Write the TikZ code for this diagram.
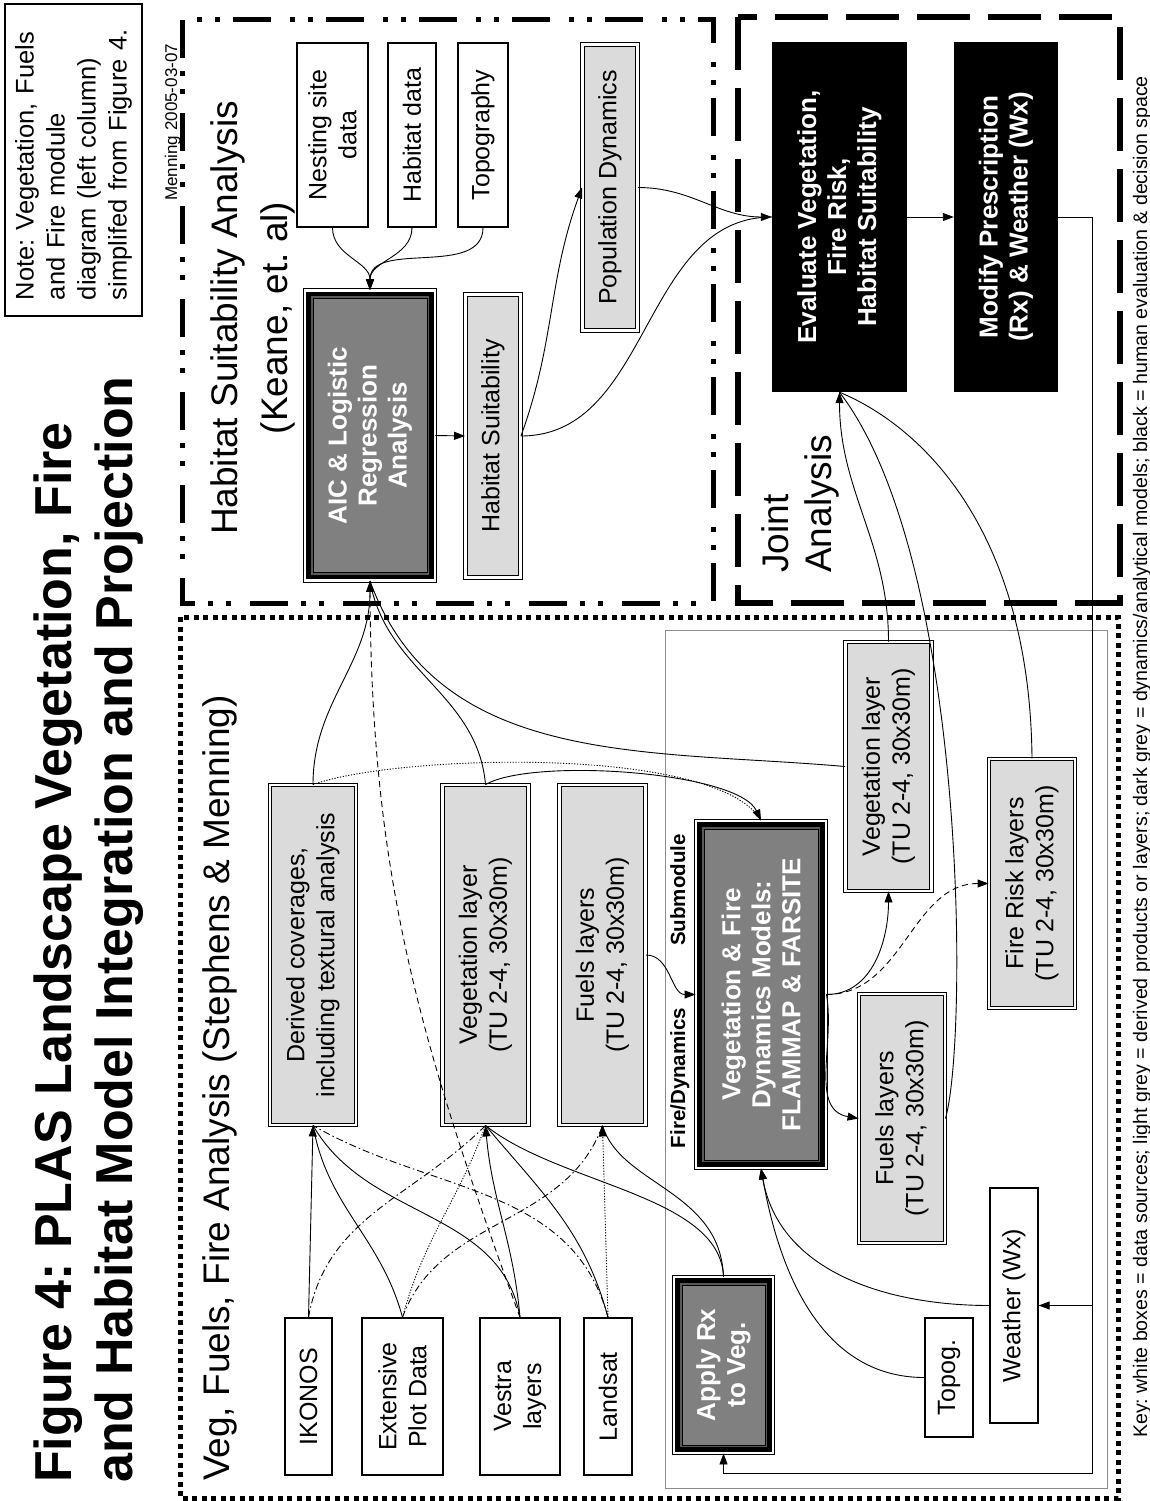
\documentclass[tikz,border=0pt]{standalone}
\usepackage{fontspec}
\setmainfont{Liberation Sans}
\usepackage{tikz}
\usetikzlibrary{positioning,arrows.meta}

% inner frame of the dark grey model boxes
\newcommand{\modelframe}[1]{%
  \draw[line width=4pt] ([shift={(-4.2pt,4.2pt)}]#1.south west) rectangle ([shift={(4.2pt,-4.2pt)}]#1.north east);
  \draw[line width=1.8pt,black!65] ([shift={(-7.1pt,7.1pt)}]#1.south west) rectangle ([shift={(7.1pt,-7.1pt)}]#1.north east);
  \draw[line width=0.8pt] ([shift={(-8.4pt,8.4pt)}]#1.south west) rectangle ([shift={(8.4pt,-8.4pt)}]#1.north east);}

\begin{document}
\frenchspacing
\begin{tikzpicture}[x=1pt,y=-1pt,
  every node/.style={rotate=90,inner sep=0pt,align=center},
  datasrc/.style={draw,line width=1.2pt,fill=white,font=\fontsize{25}{30}\selectfont},
  product/.style={draw,line width=0.9pt,double=white,double distance=2.6pt,fill=black!14,font=\fontsize{25}{30}\selectfont},
  model/.style={draw,line width=0.9pt,double=white,double distance=2.6pt,fill=black!50,text=white,font=\bfseries\fontsize{26}{30}\selectfont},
  decide/.style={fill=black,text=white,font=\bfseries\fontsize{26}{30}\selectfont},
  heading/.style={font=\fontsize{37}{43}\selectfont},
  link/.style={line width=0.9pt},
  arrow/.style={link,-{Triangle[length=11pt,width=8pt]}},
  dashdot/.style={dash pattern=on 7pt off 3pt on 1.5pt off 3pt},
  longdash/.style={dash pattern=on 6pt off 4pt},
  finedot/.style={dash pattern=on 1.2pt off 1.6pt}
]
  \useasboundingbox (0,0) rectangle (1150,1501);

  % module frames
  \draw[line width=5pt,dash pattern=on 38pt off 13pt on 5pt off 13pt on 5pt off 19pt] (182,20) rectangle (713,603);
  \draw[line width=5.5pt,dash pattern=on 53pt off 18pt] (738,17) rectangle (1120,603);
  \draw[line width=5pt,dash pattern=on 5pt off 4.5pt] (180,617) rectangle (1118,1498);
  \draw[line width=1pt,black!45] (665,630) rectangle (1107,1488);

  % titles and notes
  \node[font=\bfseries\fontsize{52}{61}\selectfont,anchor=west,align=left] (title) at (89,1483)
    {Figure 4: PLAS Landscape Vegetation, Fire\\and Habitat Model Integration and Projection};
  \node[draw,line width=1.2pt,font=\fontsize{25.5}{31}\selectfont,text width=280,align=left,inner xsep=16,minimum height=137] (note) at (73.5,160)
    {Note: Vegetation, Fuels\\and Fire module\\diagram (left column)\\simplifed from Figure 4.};
  \node[font=\fontsize{17}{20}\selectfont,anchor=base west] (stamp) at (177,201) {Menning 2005-03-07};
  \node[heading,font=\fontsize{37}{50}\selectfont] (habhead) at (253,318) {Habitat Suitability Analysis\\(Keane, et. al)};
  \node[heading,anchor=west,align=left] (jointhead) at (800,573) {Joint\\Analysis};
  \node[heading,anchor=base west] (veghead) at (229,1481) {Veg, Fuels, Fire Analysis (Stephens \& Menning)};
  \node[font=\fontsize{19.6}{23}\selectfont,anchor=base west] (key) at (1147,1438)
    {Key: white boxes = data sources; light grey = derived products or layers; dark grey = dynamics/analytical models; black = human evaluation \& decision space};
  \node[font=\bfseries\fontsize{20.5}{24}\selectfont,anchor=base] (subA) at (685,1078) {Fire/Dynamics};
  \node[font=\bfseries\fontsize{20.5}{24}\selectfont,anchor=base] (subB) at (685,890) {Submodule};

  % habitat suitability
  \node[datasrc,minimum width=184,minimum height=71] (nest) at (332.5,135) {Nesting site\\data};
  \node[datasrc,minimum width=184,minimum height=48] (habdata) at (412,135) {Habitat data};
  \node[datasrc,minimum width=184,minimum height=50] (topo) at (483,135) {Topography};
  \node[model,minimum width=290,minimum height=130] (aic) at (370,435.5) {AIC \& Logistic\\Regression\\Analysis};
  \node[product,minimum width=283,minimum height=55] (habsuit) at (493,436) {Habitat Suitability};
  \node[product,minimum width=286,minimum height=55] (popdyn) at (610,187.5) {Population Dynamics};

  % joint analysis
  \node[decide,minimum width=350,minimum height=135] (evaluate) at (839.5,217) {Evaluate Vegetation,\\Fire Risk,\\Habitat Suitability};
  \node[decide,minimum width=350,minimum height=104] (modify) at (1006,217) {Modify Prescription\\(Rx) \& Weather (Wx)};

  % veg, fuels, fire
  \node[datasrc,minimum width=157,minimum height=47] (ikonos) at (308.5,1396.5) {IKONOS};
  \node[datasrc,minimum width=157,minimum height=81] (plot) at (402.5,1396.5) {Extensive\\Plot Data};
  \node[datasrc,minimum width=157,minimum height=80] (vestra) at (520,1396.5) {Vestra\\layers};
  \node[datasrc,minimum width=157,minimum height=48] (landsat) at (608,1396.5) {Landsat};
  \node[product,minimum width=340,minimum height=86] (derived) at (313,955) {Derived coverages,\\including textural analysis};
  \node[product,minimum width=340,minimum height=86] (veglyr) at (485.5,955) {Vegetation layer\\(TU 2-4, 30x30m)};
  \node[product,minimum width=340,minimum height=86] (fuellyr) at (602.5,955) {Fuels layers\\(TU 2-4, 30x30m)};
  \node[model,minimum width=347,minimum height=130] (vfdyn) at (761,994.5) {Vegetation \& Fire\\Dynamics Models:\\FLAMMAP \& FARSITE};
  \node[product,minimum width=249,minimum height=86] (vegout) at (888.5,766.5) {Vegetation layer\\(TU 2-4, 30x30m)};
  \node[product,minimum width=249,minimum height=86] (fuelout) at (902,1118.5) {Fuels layers\\(TU 2-4, 30x30m)};
  \node[product,minimum width=249,minimum height=86] (riskout) at (1032,883.5) {Fire Risk layers\\(TU 2-4, 30x30m)};
  \node[model,minimum width=176,minimum height=99] (applyrx) at (723.5,1365) {Apply Rx\\to Veg.};
  \node[datasrc,minimum width=119,minimum height=48] (topog) at (949,1377.5) {Topog.};
  \node[datasrc,minimum width=235,minimum height=48] (weather) at (1014,1305.5) {Weather (Wx)};

  \modelframe{aic}
  \modelframe{vfdyn}
  \modelframe{applyrx}

  % habitat links
  \draw[arrow] (nest.west) to[out=-90,in=90] (aic.east);
  \draw[arrow] (habdata.west) to[out=-90,in=90] (aic.east);
  \draw[arrow] (topo.west) to[out=-90,in=90] (aic.east);
  \draw[arrow] (aic.south) -- (habsuit.north);
  \draw[arrow] (habsuit.south) to[out=70,in=-110] (popdyn.north);
  \draw[link] (habsuit.south) to[out=0,in=180] (evaluate.north);
  \draw[arrow] (popdyn.south) to[out=0,in=180] (evaluate.north);
  \draw[arrow] (evaluate.south) -- (modify.north);

  % layers back to habitat analysis
  \draw[arrow] (derived.east) to[out=90,in=-90] (aic.west);
  \draw[link] (veglyr.east) to[out=95,in=-80] (aic.west);
  \draw[link] (vegout.north) to[out=175,in=-70] (aic.west);
  \draw[link,longdash] (vestra.east) to[out=110,in=-90] (aic.west);

  % data sources to layers
  \draw[arrow] (ikonos.east) -- (derived.west);
  \draw[link] (plot.east) to[out=105,in=-80] (derived.west);
  \draw[link] (vestra.east) to[out=100,in=-60] (derived.west);
  \draw[link,dashdot] (landsat.east) to[out=105,in=-30] (derived.west);
  \draw[arrow] (vestra.east) to[out=95,in=-85] (veglyr.west);
  \draw[link,dashdot] (ikonos.east) to[out=80,in=-135] (veglyr.west);
  \draw[link,finedot] (plot.east) to[out=75,in=-110] (veglyr.west);
  \draw[link] (landsat.east) to[out=105,in=-50] (veglyr.west);
  \draw[arrow,finedot] (landsat.east) -- (fuellyr.west);
  \draw[link,dashdot] (plot.east) to[out=70,in=-110] (fuellyr.west);
  \draw[link] (applyrx.east) .. controls (720,1195) and (560,1185) .. (veglyr.west);
  \draw[link] (applyrx.east) .. controls (720,1190) and (620,1185) .. (fuellyr.west);

  % fire / dynamics submodule
  \draw[link,finedot] (derived.east) to[out=20,in=120,looseness=0.5] (vfdyn.east);
  \draw[arrow] (veglyr.east) to[out=30,in=115,looseness=0.5] (vfdyn.east);
  \draw[arrow] (fuellyr.south) to[out=0,in=180] (vfdyn.north);
  \draw[arrow] (vfdyn.south) to[out=0,in=-90] (vegout.west);
  \draw[arrow,longdash] (vfdyn.south) to[out=0,in=180] (riskout.north);
  \draw[arrow] (vfdyn.south) to[out=-80,in=170] (fuelout.north);
  \draw[arrow] (topog.north) to[out=180,in=-80] (vfdyn.west);
  \draw[arrow] (weather.north) to[out=180,in=-80] (vfdyn.west);

  % layers to joint evaluation
  \draw[arrow] (vegout.east) to[out=90,in=-90] (evaluate.west);
  \draw[link] (fuelout.south) .. controls (968,1040) and (968,560) .. (evaluate.west);
  \draw[link] (riskout.east) .. controls (1030,540) and (930,430) .. (evaluate.west);

  % prescription feedback
  \coordinate (loopc) at (1092,1473);
  \coordinate (wxtap) at (1092,1305.5);
  \draw[arrow] (modify.south) -| (loopc) -| (applyrx.west);
  \draw[arrow] (wxtap) -- (weather.south);
\end{tikzpicture}
\end{document}
